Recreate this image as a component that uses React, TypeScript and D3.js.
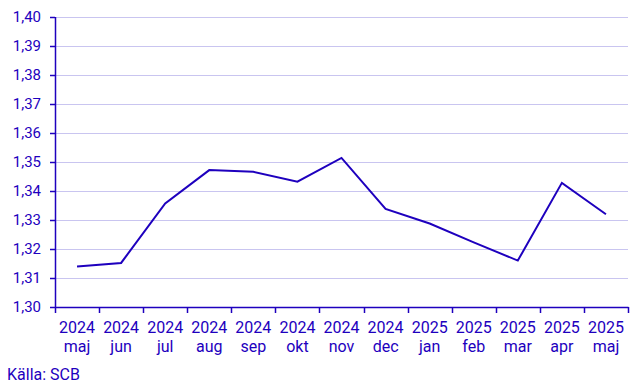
import React, { useEffect, useRef } from 'react';
import * as d3 from 'd3';

const years = ['2024', '2024', '2024', '2024', '2024', '2024', '2024', '2024', '2025', '2025', '2025', '2025', '2025'];
const months = ['maj', 'jun', 'jul', 'aug', 'sep', 'okt', 'nov', 'dec', 'jan', 'feb', 'mar', 'apr', 'maj'];
const values = [1.314, 1.3152, 1.3357, 1.3472, 1.3466, 1.3432, 1.3514, 1.3338, 1.3288, 1.3223, 1.316, 1.3428, 1.332];
const yTicks = [1.30, 1.31, 1.32, 1.33, 1.34, 1.35, 1.36, 1.37, 1.38, 1.39, 1.40];

const width = 643;
const height = 386;
const margin = { top: 17, right: 15, bottom: 79, left: 55 };
const blue = '#1e00be';
const font = 'Roboto, "Noto Sans", sans-serif';

const App: React.FC = () => {
  const ref = useRef<SVGSVGElement>(null);

  useEffect(() => {
    const svg = d3.select(ref.current);
    svg.selectAll('*').remove();

    const innerW = width - margin.left - margin.right;
    const innerH = height - margin.top - margin.bottom;
    const keys = months.map((m, i) => `${i}`);

    const x = d3.scaleBand().domain(keys).range([0, innerW]);
    const y = d3.scaleLinear().domain([1.3, 1.4]).range([innerH, 0]);

    const g = svg.append('g').attr('transform', `translate(${margin.left},${margin.top})`);

    // gridlines
    g.selectAll('.grid')
      .data(yTicks.slice(1))
      .enter()
      .append('line')
      .attr('x1', 0)
      .attr('x2', innerW)
      .attr('y1', (d) => Math.round(y(d)) + 0.5)
      .attr('y2', (d) => Math.round(y(d)) + 0.5)
      .attr('stroke', '#c9c5f0')
      .attr('stroke-width', 1);

    // y axis
    const yAxis = g.append('g');
    yAxis.append('line')
      .attr('x1', 0.5).attr('x2', 0.5)
      .attr('y1', 0).attr('y2', innerH)
      .attr('stroke', blue).attr('stroke-width', 1.5);
    yAxis.selectAll('.ytick')
      .data(yTicks)
      .enter()
      .append('line')
      .attr('x1', -5).attr('x2', 0)
      .attr('y1', (d) => Math.round(y(d)) + 0.5)
      .attr('y2', (d) => Math.round(y(d)) + 0.5)
      .attr('stroke', blue).attr('stroke-width', 1.5);
    yAxis.selectAll('.ylabel')
      .data(yTicks)
      .enter()
      .append('text')
      .attr('x', -14)
      .attr('y', (d) => y(d))
      .attr('dy', '0.35em')
      .attr('text-anchor', 'end')
      .attr('fill', blue)
      .style('font-family', font)
      .style('font-size', '15px')
      .text((d) => d.toFixed(2).replace('.', ','));

    // x axis
    const xAxis = g.append('g').attr('transform', `translate(0,${innerH})`);
    xAxis.append('line')
      .attr('x1', 0).attr('x2', innerW + 0.5)
      .attr('y1', 0.5).attr('y2', 0.5)
      .attr('stroke', blue).attr('stroke-width', 1.5);
    const bounds = keys.map((k) => x(k)!).concat([innerW]);
    xAxis.selectAll('.xtick')
      .data(bounds)
      .enter()
      .append('line')
      .attr('x1', (d) => Math.round(d) + 0.5)
      .attr('x2', (d) => Math.round(d) + 0.5)
      .attr('y1', 0).attr('y2', 6)
      .attr('stroke', blue).attr('stroke-width', 1.5);
    const labels = xAxis.selectAll('.xlabel')
      .data(keys)
      .enter()
      .append('text')
      .attr('text-anchor', 'middle')
      .attr('fill', blue)
      .style('font-family', font)
      .style('font-size', '16px');
    labels.append('tspan')
      .attr('x', (d) => x(d)! + x.bandwidth() / 2)
      .attr('y', 26)
      .text((d, i) => years[i]);
    labels.append('tspan')
      .attr('x', (d) => x(d)! + x.bandwidth() / 2)
      .attr('y', 45)
      .text((d, i) => months[i]);

    // line
    const line = d3.line<number>()
      .x((d, i) => x(keys[i])! + x.bandwidth() / 2)
      .y((d) => y(d));
    g.append('path')
      .datum(values)
      .attr('d', line)
      .attr('fill', 'none')
      .attr('stroke', blue)
      .attr('stroke-width', 2)
      .attr('stroke-linejoin', 'miter');

    // source
    svg.append('text')
      .attr('x', 7)
      .attr('y', 380)
      .attr('fill', blue)
      .style('font-family', font)
      .style('font-size', '16px')
      .text('Källa: SCB');
  }, []);

  return (
    <svg
      ref={ref}
      width={width}
      height={height}
      style={{ position: 'absolute', left: 0, top: 0, background: '#fff' }}
    />
  );
};

export default App;
